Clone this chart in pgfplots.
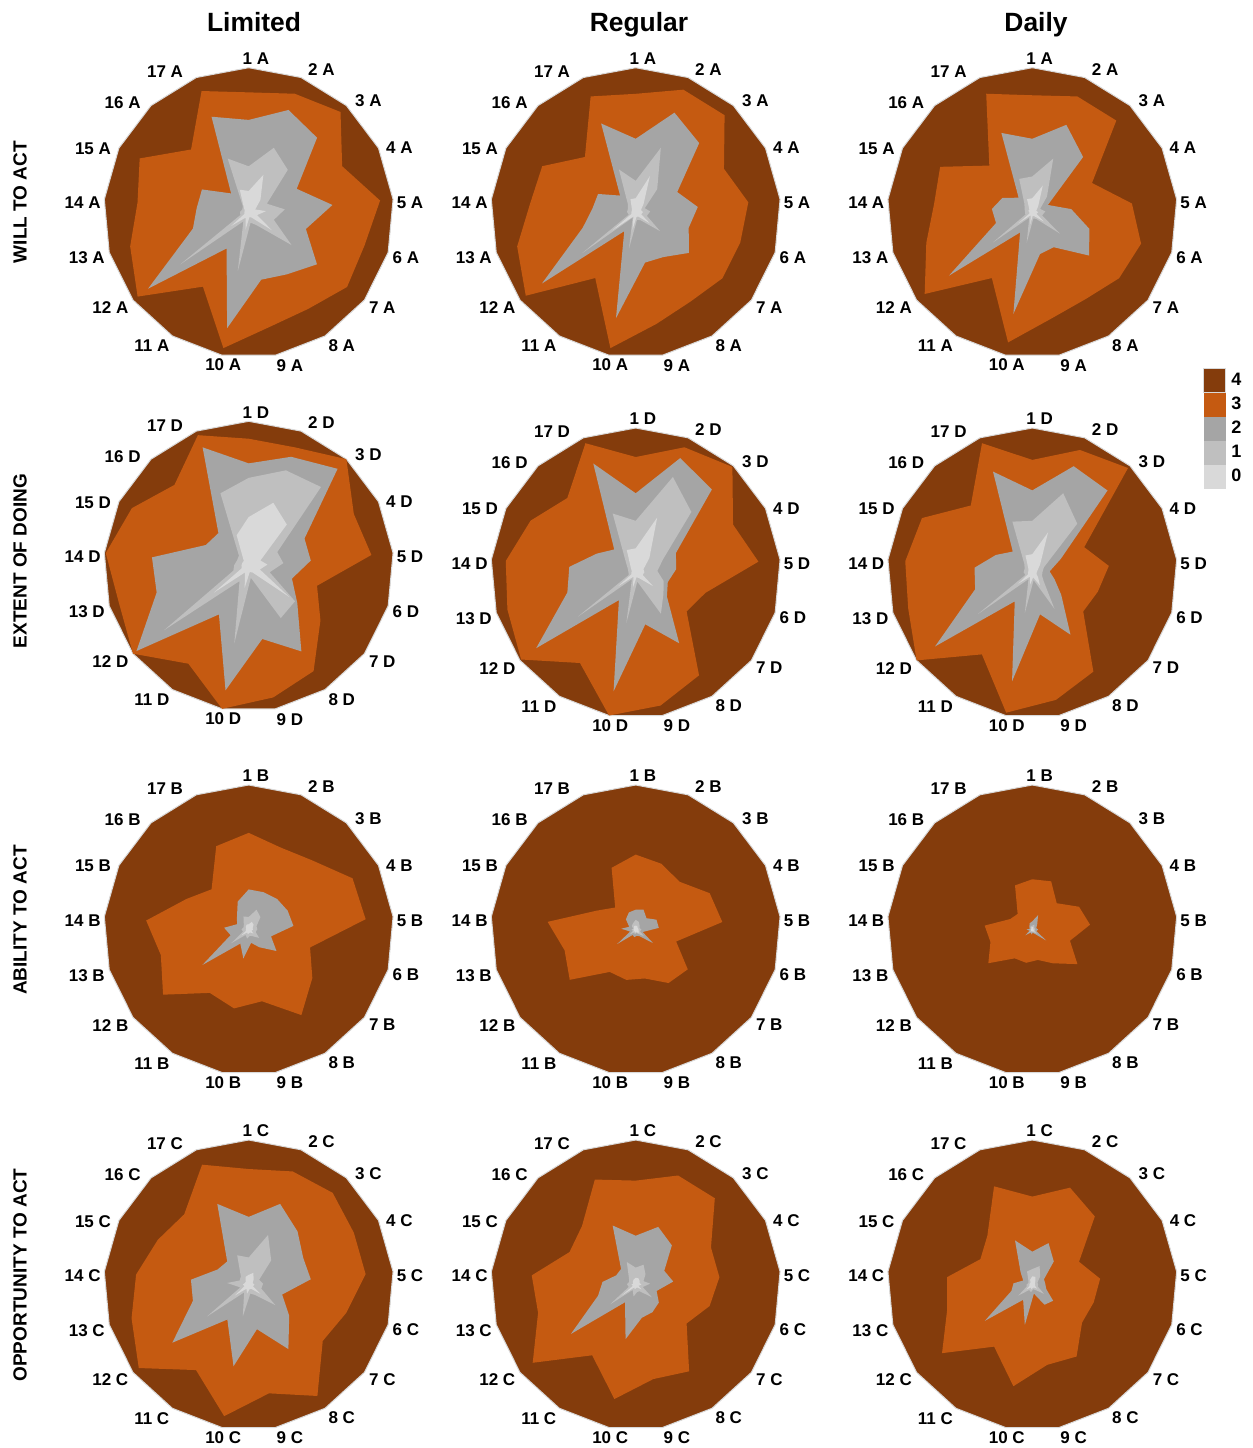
\documentclass[border=0pt]{standalone}
\usepackage{fontspec}
\setmainfont{Liberation Sans}
\usepackage{pgfplots}
\usepackage{pgfplotstable}
\pgfplotsset{compat=1.18}
\usepgfplotslibrary{polar}

\definecolor{c4}{HTML}{843C0C}
\definecolor{c3}{HTML}{C55A11}
\definecolor{c2}{HTML}{A5A5A5}
\definecolor{c1}{HTML}{BFBFBF}
\definecolor{c0}{HTML}{D9D9D9}

% columns: a = angle, f = all answers (4), o = <=3, g = <=2, l = <=1, w = 0
\pgfplotstableread{
a f o g l w
90 1 0.83 0.64 0.32 0.15
68.824 1 0.88 0.76 0.48 0.28
47.647 1 0.94 0.70 0.40 0.12
26.471 1 0.72 0.37 0.14 0.05
5.294 1 0.91 0.58 0.25 0.12
344.118 1 0.83 0.41 0.18 0.06
322.941 1 0.85 0.59 0.37 0.20
301.765 1 0.78 0.50 0.10 0.04
280.588 1 0.80 0.47 0.07 0.03
259.412 1 0.95 0.81 0.41 0.12
238.235 1 0.60 0.29 0.07 0.04
217.059 1 0.96 0.87 0.59 0.15
195.882 1 0.85 0.40 0.06 0.03
174.706 1 0.77 0.36 0.06 0.03
153.529 1 0.84 0.36 0.05 0.03
132.353 1 0.59 0.18 0.06 0.05
111.176 1 0.90 0.71 0.40 0.17
90 1 0.83 0.64 0.32 0.15
}\TabA
\pgfplotstableread{
a f o g l w
90 1 0.82 0.51 0.22 0.10
68.824 1 0.91 0.74 0.48 0.27
47.647 1 0.91 0.65 0.22 0.08
26.471 1 0.68 0.32 0.07 0.04
5.294 1 0.78 0.43 0.10 0.05
344.118 1 0.75 0.38 0.08 0.04
322.941 1 0.75 0.46 0.21 0.12
301.765 1 0.72 0.36 0.06 0.03
280.588 1 0.78 0.35 0.05 0.03
259.412 1 0.95 0.74 0.25 0.12
238.235 1 0.53 0.15 0.04 0.03
217.059 1 0.95 0.81 0.46 0.20
195.882 1 0.85 0.38 0.05 0.03
174.706 1 0.73 0.30 0.06 0.03
153.529 1 0.72 0.29 0.06 0.03
132.353 1 0.52 0.16 0.08 0.04
111.176 1 0.86 0.66 0.32 0.10
90 1 0.82 0.51 0.22 0.10
}\TabB
\pgfplotstableread{
a f o g l w
90 1 0.81 0.51 0.25 0.10
68.824 1 0.86 0.65 0.40 0.20
47.647 1 0.86 0.52 0.15 0.06
26.471 1 0.46 0.12 0.06 0.03
5.294 1 0.69 0.27 0.09 0.04
344.118 1 0.78 0.41 0.07 0.03
322.941 1 0.75 0.49 0.24 0.10
301.765 1 0.70 0.28 0.05 0.03
280.588 1 0.74 0.29 0.04 0.02
259.412 1 0.91 0.71 0.21 0.08
238.235 1 0.53 0.16 0.04 0.02
217.059 1 0.93 0.72 0.34 0.12
195.882 1 0.76 0.26 0.05 0.02
174.706 1 0.68 0.28 0.05 0.02
153.529 1 0.71 0.23 0.06 0.03
132.353 1 0.44 0.14 0.08 0.03
111.176 1 0.88 0.59 0.25 0.10
90 1 0.81 0.51 0.25 0.10
}\TabC
\pgfplotstableread{
a f o g l w
90 1 0.88 0.71 0.61 0.34
68.824 1 0.88 0.81 0.71 0.47
47.647 1 1.00 0.91 0.74 0.39
26.471 1 0.81 0.43 0.22 0.09
5.294 1 0.85 0.43 0.24 0.13
344.118 1 0.49 0.31 0.15 0.08
322.941 1 0.62 0.42 0.40 0.35
301.765 1 0.85 0.69 0.42 0.05
280.588 1 0.92 0.51 0.08 0.04
259.412 1 1.00 0.87 0.54 0.15
238.235 1 0.79 0.39 0.12 0.05
217.059 1 1.00 0.97 0.73 0.30
195.882 1 0.93 0.66 0.11 0.05
174.706 1 0.99 0.67 0.10 0.05
153.529 1 0.90 0.33 0.09 0.05
132.353 1 0.76 0.31 0.10 0.05
111.176 1 0.97 0.88 0.54 0.23
90 1 0.88 0.71 0.61 0.34
}\TabD
\pgfplotstableread{
a f o g l w
90 1 0.80 0.55 0.36 0.17
68.824 1 0.93 0.85 0.71 0.41
47.647 1 0.99 0.78 0.57 0.14
26.471 1 0.75 0.31 0.21 0.06
5.294 1 0.85 0.28 0.15 0.06
344.118 1 0.50 0.23 0.20 0.05
322.941 1 0.44 0.27 0.24 0.15
301.765 1 0.83 0.57 0.33 0.04
280.588 1 0.93 0.36 0.06 0.03
259.412 1 1.00 0.83 0.35 0.10
238.235 1 0.73 0.22 0.05 0.03
217.059 1 0.99 0.86 0.50 0.15
195.882 1 0.92 0.49 0.05 0.03
174.706 1 0.90 0.46 0.05 0.03
153.529 1 0.81 0.30 0.06 0.03
132.353 1 0.70 0.22 0.10 0.05
111.176 1 0.96 0.81 0.44 0.17
90 1 0.80 0.55 0.36 0.17
}\TabE
\pgfplotstableread{
a f o g l w
90 1 0.78 0.57 0.36 0.13
68.824 1 0.91 0.79 0.59 0.30
47.647 1 0.98 0.77 0.46 0.08
26.471 1 0.40 0.22 0.09 0.04
5.294 1 0.53 0.12 0.07 0.03
344.118 1 0.47 0.16 0.07 0.03
322.941 1 0.44 0.25 0.10 0.05
301.765 1 0.80 0.50 0.29 0.10
280.588 1 0.89 0.29 0.05 0.03
259.412 1 0.98 0.76 0.28 0.08
238.235 1 0.66 0.23 0.05 0.03
217.059 1 1.00 0.84 0.47 0.12
195.882 1 0.89 0.41 0.05 0.03
174.706 1 0.88 0.40 0.06 0.03
153.529 1 0.85 0.28 0.06 0.03
132.353 1 0.63 0.20 0.08 0.04
111.176 1 0.96 0.75 0.38 0.13
90 1 0.78 0.57 0.36 0.13
}\TabF
\pgfplotstableread{
a f o g l w
90 1 0.67 0.28 0.09 0.04
68.824 1 0.61 0.28 0.15 0.06
47.647 1 0.65 0.29 0.12 0.05
26.471 1 0.80 0.30 0.06 0.03
5.294 1 0.81 0.31 0.06 0.03
344.118 1 0.44 0.16 0.05 0.02
322.941 1 0.55 0.24 0.09 0.04
301.765 1 0.69 0.14 0.05 0.02
280.588 1 0.50 0.09 0.04 0.02
259.412 1 0.55 0.20 0.06 0.03
238.235 1 0.51 0.11 0.04 0.02
217.059 1 0.74 0.40 0.15 0.06
195.882 1 0.63 0.13 0.04 0.02
174.706 1 0.71 0.17 0.05 0.02
153.529 1 0.48 0.09 0.04 0.02
132.353 1 0.38 0.12 0.05 0.03
111.176 1 0.62 0.21 0.10 0.04
90 1 0.67 0.28 0.09 0.04
}\TabG
\pgfplotstableread{
a f o g l w
90 1 0.52 0.14 0.07 0.03
68.824 1 0.49 0.15 0.06 0.03
47.647 1 0.45 0.11 0.04 0.02
26.471 1 0.57 0.16 0.03 0.02
5.294 1 0.60 0.16 0.04 0.02
344.118 1 0.29 0.05 0.03 0.02
322.941 1 0.45 0.15 0.07 0.03
301.765 1 0.43 0.05 0.03 0.02
280.588 1 0.34 0.04 0.02 0.01
259.412 1 0.35 0.05 0.03 0.02
238.235 1 0.34 0.04 0.02 0.01
217.059 1 0.57 0.16 0.05 0.02
195.882 1 0.51 0.04 0.02 0.01
174.706 1 0.61 0.10 0.03 0.02
153.529 1 0.30 0.05 0.02 0.01
132.353 1 0.21 0.10 0.04 0.02
111.176 1 0.46 0.13 0.05 0.03
90 1 0.52 0.14 0.07 0.03
}\TabH
\pgfplotstableread{
a f o g l w
90 1 0.35 0.06 0.03 0.02
68.824 1 0.36 0.11 0.04 0.02
47.647 1 0.25 0.05 0.02 0.01
26.471 1 0.36 0.03 0.02 0.01
5.294 1 0.40 0.04 0.02 0.01
344.118 1 0.27 0.03 0.02 0.01
322.941 1 0.39 0.12 0.04 0.02
301.765 1 0.27 0.03 0.02 0.01
280.588 1 0.21 0.02 0.01 0.01
259.412 1 0.23 0.03 0.02 0.01
238.235 1 0.23 0.02 0.01 0.01
217.059 1 0.38 0.06 0.03 0.01
195.882 1 0.30 0.02 0.01 0.01
174.706 1 0.33 0.04 0.02 0.01
153.529 1 0.17 0.02 0.01 0.01
132.353 1 0.15 0.03 0.02 0.01
111.176 1 0.33 0.05 0.03 0.02
90 1 0.35 0.06 0.03 0.02
}\TabI
\pgfplotstableread{
a f o g l w
90 1 0.80 0.47 0.19 0.07
68.824 1 0.84 0.60 0.37 0.09
47.647 1 0.86 0.50 0.23 0.05
26.471 1 0.81 0.42 0.08 0.03
5.294 1 0.81 0.43 0.10 0.04
344.118 1 0.70 0.24 0.09 0.03
322.941 1 0.64 0.35 0.23 0.10
301.765 1 0.90 0.52 0.08 0.03
280.588 1 0.76 0.31 0.06 0.03
259.412 1 0.92 0.57 0.22 0.06
238.235 1 0.69 0.28 0.06 0.03
217.059 1 0.95 0.66 0.36 0.12
195.882 1 0.84 0.40 0.06 0.03
174.706 1 0.78 0.40 0.15 0.04
153.529 1 0.70 0.24 0.07 0.03
132.353 1 0.66 0.22 0.08 0.03
111.176 1 0.89 0.60 0.22 0.06
90 1 0.80 0.47 0.19 0.07
}\TabJ
\pgfplotstableread{
a f o g l w
90 1 0.72 0.34 0.12 0.05
68.824 1 0.81 0.43 0.15 0.05
47.647 1 0.81 0.37 0.10 0.04
26.471 1 0.58 0.22 0.06 0.03
5.294 1 0.58 0.26 0.10 0.04
344.118 1 0.53 0.15 0.05 0.02
322.941 1 0.44 0.20 0.14 0.05
301.765 1 0.70 0.22 0.05 0.02
280.588 1 0.66 0.23 0.05 0.02
259.412 1 0.80 0.38 0.08 0.03
238.235 1 0.57 0.14 0.04 0.02
217.059 1 0.89 0.56 0.22 0.12
195.882 1 0.70 0.27 0.05 0.02
174.706 1 0.72 0.23 0.06 0.03
153.529 1 0.51 0.15 0.05 0.02
132.353 1 0.55 0.15 0.07 0.03
111.176 1 0.78 0.44 0.17 0.04
90 1 0.72 0.34 0.12 0.05
}\TabK
\pgfplotstableread{
a f o g l w
90 1 0.61 0.23 0.11 0.06
68.824 1 0.72 0.31 0.14 0.06
47.647 1 0.64 0.22 0.08 0.03
26.471 1 0.36 0.09 0.04 0.02
5.294 1 0.47 0.09 0.04 0.02
344.118 1 0.44 0.10 0.04 0.02
322.941 1 0.43 0.18 0.10 0.04
301.765 1 0.58 0.16 0.04 0.02
280.588 1 0.56 0.06 0.03 0.02
259.412 1 0.71 0.28 0.05 0.03
238.235 1 0.50 0.12 0.04 0.02
217.059 1 0.78 0.41 0.12 0.05
195.882 1 0.61 0.15 0.04 0.02
174.706 1 0.59 0.13 0.04 0.02
153.529 1 0.40 0.07 0.03 0.02
132.353 1 0.46 0.12 0.04 0.02
111.176 1 0.73 0.33 0.10 0.04
90 1 0.61 0.23 0.11 0.06
}\TabL

\pgfplotsset{
  radar/.style={
    scale only axis, width=145pt, height=145pt, anchor=center,
    xmin=0, xmax=360, ymin=0, ymax=1,
    % label positions as placed in the reference (slightly spread from the spokes)
    xtick={87.3,63.1,43.0,23.2,3.4,344.0,324.6,305.0,285.1,260.5,234.0,214.5,195.6,176.7,157.7,138.9,120.7},
    xticklabels={1 #1,2 #1,3 #1,4 #1,5 #1,6 #1,7 #1,8 #1,9 #1,10 #1,11 #1,12 #1,13 #1,14 #1,15 #1,16 #1,17 #1},
    ytick=\empty, grid=none,
    axis line style={draw=none},
    major tick length=0pt,
    xticklabel style={font=\bfseries\fontsize{8.5}{10}\selectfont, inner sep=1.5pt},
    clip=false,
  },
}

\newcommand{\radarplots}[1]{%
  \addplot[fill=c4, draw=c0, line width=0.5pt] table[x=a,y=f]{#1};
  \addplot[fill=c3, draw=none] table[x=a,y=o]{#1};
  \addplot[fill=c2, draw=none] table[x=a,y=g]{#1};
  \addplot[fill=c1, draw=none] table[x=a,y=l]{#1};
  \addplot[fill=c0, draw=none] table[x=a,y=w]{#1};
}

\begin{document}
\begin{tikzpicture}
\path[use as bounding box] (0pt,0pt) rectangle (626.5pt,-724pt);

% column titles
\node[anchor=base, font=\bfseries\fontsize{13.2}{16}\selectfont] at (127pt,-15.5pt) {Limited};
\node[anchor=base, font=\bfseries\fontsize{13.2}{16}\selectfont] at (319.5pt,-15.5pt) {Regular};
\node[anchor=base, font=\bfseries\fontsize{13.2}{16}\selectfont] at (518pt,-15.5pt) {Daily};

% row titles
\node[rotate=90, font=\bfseries\fontsize{9.5}{11}\selectfont] at (10pt,-101pt) {WILL TO ACT};
\node[rotate=90, font=\bfseries\fontsize{9.5}{11}\selectfont] at (10pt,-280.5pt) {EXTENT OF DOING};
\node[rotate=90, font=\bfseries\fontsize{9.5}{11}\selectfont] at (10pt,-460pt) {ABILITY TO ACT};
\node[rotate=90, font=\bfseries\fontsize{9.5}{11}\selectfont] at (10pt,-637.5pt) {OPPORTUNITY TO ACT};

% row 1: will to act
\begin{polaraxis}[radar=A, at={(124.35pt,-106.35pt)}]
\radarplots{\TabA}
\end{polaraxis}
\begin{polaraxis}[radar=A, at={(317.85pt,-106.35pt)}]
\radarplots{\TabB}
\end{polaraxis}
\begin{polaraxis}[radar=A, at={(516.15pt,-106.35pt)},
  legend entries={4,3,2,1,0},
  legend image code/.code={\fill[#1] (0pt,-5.8pt) rectangle (11pt,5.8pt);},
  legend style={at={(1.0886,-0.0355)}, anchor=north west, draw=none, fill=none,
    inner sep=0pt, row sep=0.4pt, column sep=2pt,
    font=\bfseries\fontsize{9}{10}\selectfont,
    nodes={inner sep=0.5pt, anchor=west}},
  legend cell align=left]
\radarplots{\TabC}
\end{polaraxis}

% row 2: extent of doing
\begin{polaraxis}[radar=D, at={(124.35pt,-283.15pt)}]
\radarplots{\TabD}
\end{polaraxis}
\begin{polaraxis}[radar=D, at={(317.85pt,-286.5pt)}]
\radarplots{\TabE}
\end{polaraxis}
\begin{polaraxis}[radar=D, at={(516.15pt,-286.5pt)}]
\radarplots{\TabF}
\end{polaraxis}

% row 3: ability to act
\begin{polaraxis}[radar=B, at={(124.35pt,-465pt)}]
\radarplots{\TabG}
\end{polaraxis}
\begin{polaraxis}[radar=B, at={(317.85pt,-465pt)}]
\radarplots{\TabH}
\end{polaraxis}
\begin{polaraxis}[radar=B, at={(516.15pt,-465pt)}]
\radarplots{\TabI}
\end{polaraxis}

% row 4: opportunity to act
\begin{polaraxis}[radar=C, at={(124.35pt,-642.5pt)}]
\radarplots{\TabJ}
\end{polaraxis}
\begin{polaraxis}[radar=C, at={(317.85pt,-642.5pt)}]
\radarplots{\TabK}
\end{polaraxis}
\begin{polaraxis}[radar=C, at={(516.15pt,-642.5pt)}]
\radarplots{\TabL}
\end{polaraxis}
\end{tikzpicture}
\end{document}
